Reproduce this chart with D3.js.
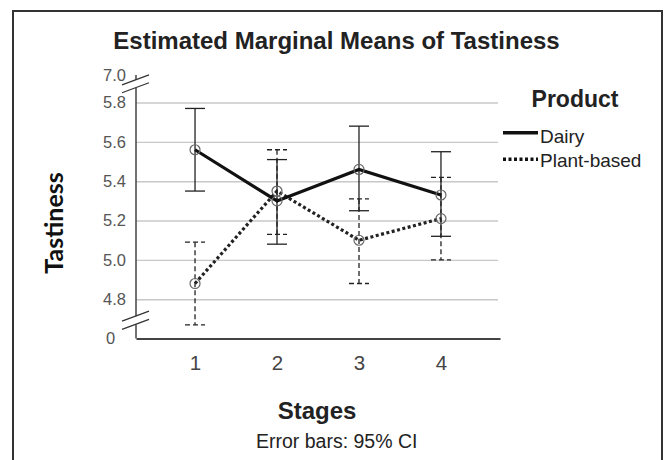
<!DOCTYPE html>
<html>
<head>
<meta charset="utf-8">
<script src="https://cdn.jsdelivr.net/npm/d3@7"></script>
<style>
  html, body { margin: 0; padding: 0; background: #fff; }
  svg { display: block; }
  text { font-family: "Liberation Sans", Arial, sans-serif; }
</style>
</head>
<body>
<svg id="chart" width="665" height="460"></svg>
<script>
// ---- data ----
const stages = [1, 2, 3, 4];
const dairyMean = [5.56, 5.30, 5.46, 5.33];
const dairyLow  = [5.35, 5.08, 5.25, 5.12];
const dairyHigh = [5.77, 5.51, 5.68, 5.55];
const plantMean = [4.88, 5.35, 5.10, 5.21];
const plantLow  = [4.67, 5.13, 4.88, 5.00];
const plantHigh = [5.09, 5.56, 5.31, 5.42];
const yTicks = [4.8, 5.0, 5.2, 5.4, 5.6, 5.8];
const yBreakLabels = ["0", "7.0"];
const seriesNames = ["Dairy", "Plant-based"];

const svg = d3.select("#chart");

// frame
svg.append("rect").attr("x", 13).attr("y", 11).attr("width", 649).attr("height", 470)
  .attr("fill", "none").attr("stroke", "#333").attr("stroke-width", 2);

const x = d3.scalePoint().domain(stages).range([136, 500]).padding(0.72);
const y = d3.scaleLinear().domain([4.6, 5.94]).range([338.6, 75]);

// gridlines
const grid = svg.append("g").attr("transform", "translate(136,0)")
  .call(d3.axisLeft(y).tickValues(yTicks).tickSize(-362).tickFormat(""));
grid.select(".domain").remove();
grid.selectAll("line").attr("stroke", "#c8c8c8").attr("stroke-width", 1.4);

// y axis line
svg.append("line").attr("x1", 136).attr("x2", 136).attr("y1", y(5.94)).attr("y2", y(4.6))
  .attr("stroke", "#444").attr("stroke-width", 1.5);

// x axis
const xa = svg.append("g").attr("transform", `translate(0,${y(4.6)})`)
  .call(d3.axisBottom(x).tickSize(0).tickSizeOuter(0).tickPadding(0));
xa.select(".domain").attr("stroke", "#444").attr("stroke-width", 2);
xa.selectAll("text").attr("font-size", 20.5).attr("fill", "#444")
  .attr("font-family", "'Liberation Sans', Arial, sans-serif")
  .attr("dy", null).attr("y", 31);

// y tick labels
svg.append("g").selectAll("text").data(yTicks).join("text")
  .attr("x", 103).attr("y", d => y(d)).attr("dy", "0.35em")
  .attr("font-size", 16.5).attr("fill", "#555")
  .text(d => d3.format(".1f")(d));
svg.append("g").selectAll("text").data(yBreakLabels).join("text")
  .attr("x", (d, i) => i === 0 ? 106 : 103).attr("y", (d, i) => i === 0 ? y(4.6) : y(5.94)).attr("dy", "0.35em")
  .attr("font-size", 16.5).attr("fill", "#555")
  .text(d => d);

// axis break markers
function breakMark(v) {
  const cy = y(v);
  svg.append("line").attr("x1", 122).attr("x2", 149).attr("y1", cy + 5).attr("y2", cy - 5)
    .attr("stroke", "#333").attr("stroke-width", 1.2);
}
[[5.875, 5.915], [4.672, 4.714]].forEach(([a, b]) => {
  svg.append("rect").attr("x", 133).attr("width", 6).attr("y", y(b)).attr("height", y(a) - y(b))
    .attr("fill", "#fff");
  breakMark(a); breakMark(b);
});

// error bars
function errorBars(low, high, dashed) {
  const g = svg.append("g").attr("stroke", "#222").attr("stroke-width", 1.3)
    .attr("stroke-dasharray", dashed ? "5,3" : null);
  g.selectAll("line.stem").data(stages).join("line")
    .attr("x1", d => x(d)).attr("x2", d => x(d))
    .attr("y1", (d, i) => y(high[i])).attr("y2", (d, i) => y(low[i]));
  g.selectAll("line.top").data(stages).join("line")
    .attr("x1", d => x(d) - 10).attr("x2", d => x(d) + 10)
    .attr("y1", (d, i) => y(high[i])).attr("y2", (d, i) => y(high[i]));
  g.selectAll("line.bot").data(stages).join("line")
    .attr("x1", d => x(d) - 10).attr("x2", d => x(d) + 10)
    .attr("y1", (d, i) => y(low[i])).attr("y2", (d, i) => y(low[i]));
}
errorBars(plantLow, plantHigh, true);
errorBars(dairyLow, dairyHigh, false);

// lines
const line = d3.line().x((d, i) => x(stages[i])).y(d => y(d));
svg.append("path").datum(plantMean).attr("d", line).attr("fill", "none")
  .attr("stroke", "#222").attr("stroke-width", 3.2).attr("stroke-dasharray", "3,2.5");
svg.append("path").datum(dairyMean).attr("d", line).attr("fill", "none")
  .attr("stroke", "#111").attr("stroke-width", 3.2);

// markers
[dairyMean, plantMean].forEach(arr => {
  svg.append("g").selectAll("circle").data(arr).join("circle")
    .attr("cx", (d, i) => x(stages[i])).attr("cy", d => y(d)).attr("r", 5)
    .attr("fill", "none").attr("stroke", "#666").attr("stroke-width", 1.2);
});

// title
svg.append("text").attr("x", 336.5).attr("y", 49.3).attr("text-anchor", "middle")
  .attr("font-size", 24).attr("font-weight", "bold").attr("fill", "#222")
  .text("Estimated Marginal Means of Tastiness");

// axis titles
svg.append("text").attr("x", 317).attr("y", 419).attr("text-anchor", "middle")
  .attr("font-size", 24).attr("font-weight", "bold").attr("fill", "#222").text("Stages");
svg.append("text").attr("x", 336.7).attr("y", 448).attr("text-anchor", "middle")
  .attr("font-size", 19.5).attr("fill", "#222").text("Error bars: 95% CI");
svg.append("text").attr("transform", "translate(63,223) rotate(-90)").attr("text-anchor", "middle")
  .attr("font-size", 25).attr("font-weight", "bold").attr("fill", "#111")
  .style("font-family", "Lato, 'Open Sans', sans-serif").text("Tastiness");

// legend
svg.append("text").attr("x", 575).attr("y", 107).attr("text-anchor", "middle")
  .attr("font-size", 23).attr("font-weight", "bold").attr("fill", "#222").text("Product");
const leg = svg.append("g").selectAll("g").data(seriesNames).join("g");
leg.append("line").attr("x1", 503).attr("x2", 538)
  .attr("y1", (d, i) => i === 0 ? 132.7 : 159.3).attr("y2", (d, i) => i === 0 ? 132.7 : 159.3)
  .attr("stroke", "#111").attr("stroke-width", 3.4)
  .attr("stroke-dasharray", (d, i) => i === 0 ? null : "3,2.5");
leg.append("text").attr("x", 540).attr("y", (d, i) => i === 0 ? 143.3 : 166.5)
  .attr("font-size", 19).attr("fill", "#222").text(d => d);
</script>
</body>
</html>
